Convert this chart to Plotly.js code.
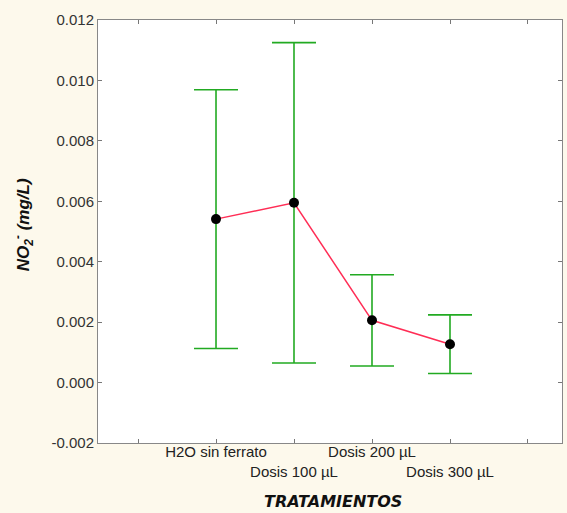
<!DOCTYPE html>
<html>
<head>
<meta charset="utf-8">
<script src="https://cdn.plot.ly/plotly-3.0.1.min.js"></script>
<style>html,body{margin:0;padding:0;background:#fdf9ec;}</style>
</head>
<body>
<div id="chart" style="width:567px;height:513px;"></div>
<script>
const categories = ["H2O sin ferrato", "Dosis 100 µL", "Dosis 200 µL", "Dosis 300 µL"];
const positions = [1, 2, 3, 4];
const means = [0.00541, 0.00595, 0.00206, 0.00127];
const errors = [0.00428, 0.00530, 0.00151, 0.00097];
const xTickPositions = [0, 1, 2, 3, 4, 5];
const xTickLabels = ["", "H2O sin ferrato", "<br>Dosis 100 µL", "Dosis 200 µL", "<br>Dosis 300 µL", ""];
const yTickValues = [-0.002, 0, 0.002, 0.004, 0.006, 0.008, 0.010, 0.012];
const yTickLabels = ["-0.002", "0.000", "0.002", "0.004", "0.006", "0.008", "0.010", "0.012"];
const xTitle = '<b><i>TRATAMIENTOS</i></b>';
const yTitle = '<b><i>NO<sub>2</sub><sup>-</sup> (mg/L)</i></b>';

const trace = {
  x: positions,
  y: means,
  text: categories,
  type: 'scatter',
  mode: 'lines+markers',
  line: {color: '#ff2d55', width: 1.5},
  marker: {color: '#000000', size: 10},
  error_y: {type: 'data', array: errors, visible: true, color: '#22aa22', thickness: 1.6, width: 22},
  hoverinfo: 'text+y'
};

const layout = {
  width: 567, height: 513,
  paper_bgcolor: '#fdf9ec',
  plot_bgcolor: '#ffffff',
  margin: {l: 98, r: 5, t: 20, b: 70},
  font: {family: 'Liberation Sans, Arial, sans-serif', size: 15, color: '#222222'},
  showlegend: false,
  xaxis: {
    range: [-0.513, 5.436],
    tickmode: 'array', tickvals: xTickPositions, ticktext: xTickLabels,
    tickangle: 0, ticklabelstandoff: -5,
    ticks: 'inside', ticklen: 4, tickcolor: '#777777',
    showline: true, linecolor: '#888888', linewidth: 1, mirror: 'ticks',
    showgrid: false, zeroline: false, automargin: false,
    tickfont: {size: 15, color: '#222222'}
  },
  yaxis: {
    range: [-0.002, 0.012],
    tickmode: 'array', tickvals: yTickValues, ticktext: yTickLabels,
    ticks: 'inside', ticklen: 4, tickcolor: '#777777',
    showline: true, linecolor: '#888888', linewidth: 1, mirror: 'ticks',
    showgrid: false, zeroline: false, automargin: false,
    tickfont: {size: 15, color: '#333333'}
  },
  annotations: [
    {text: xTitle, xref: 'paper', yref: 'paper', x: 0.506, y: -0.139, xanchor: 'center', yanchor: 'middle',
     showarrow: false, borderpad: 0, font: {family: 'DejaVu Sans, sans-serif', size: 16, color: '#111111'}},
    {text: yTitle, xref: 'paper', yref: 'paper', x: -0.1616, y: 0.515, xanchor: 'center', yanchor: 'middle',
     textangle: -90, showarrow: false, borderpad: 0, font: {size: 17, color: '#111111'}}
  ]
};

Plotly.newPlot('chart', [trace], layout, {displayModeBar: false, staticPlot: true});
</script>
</body>
</html>
